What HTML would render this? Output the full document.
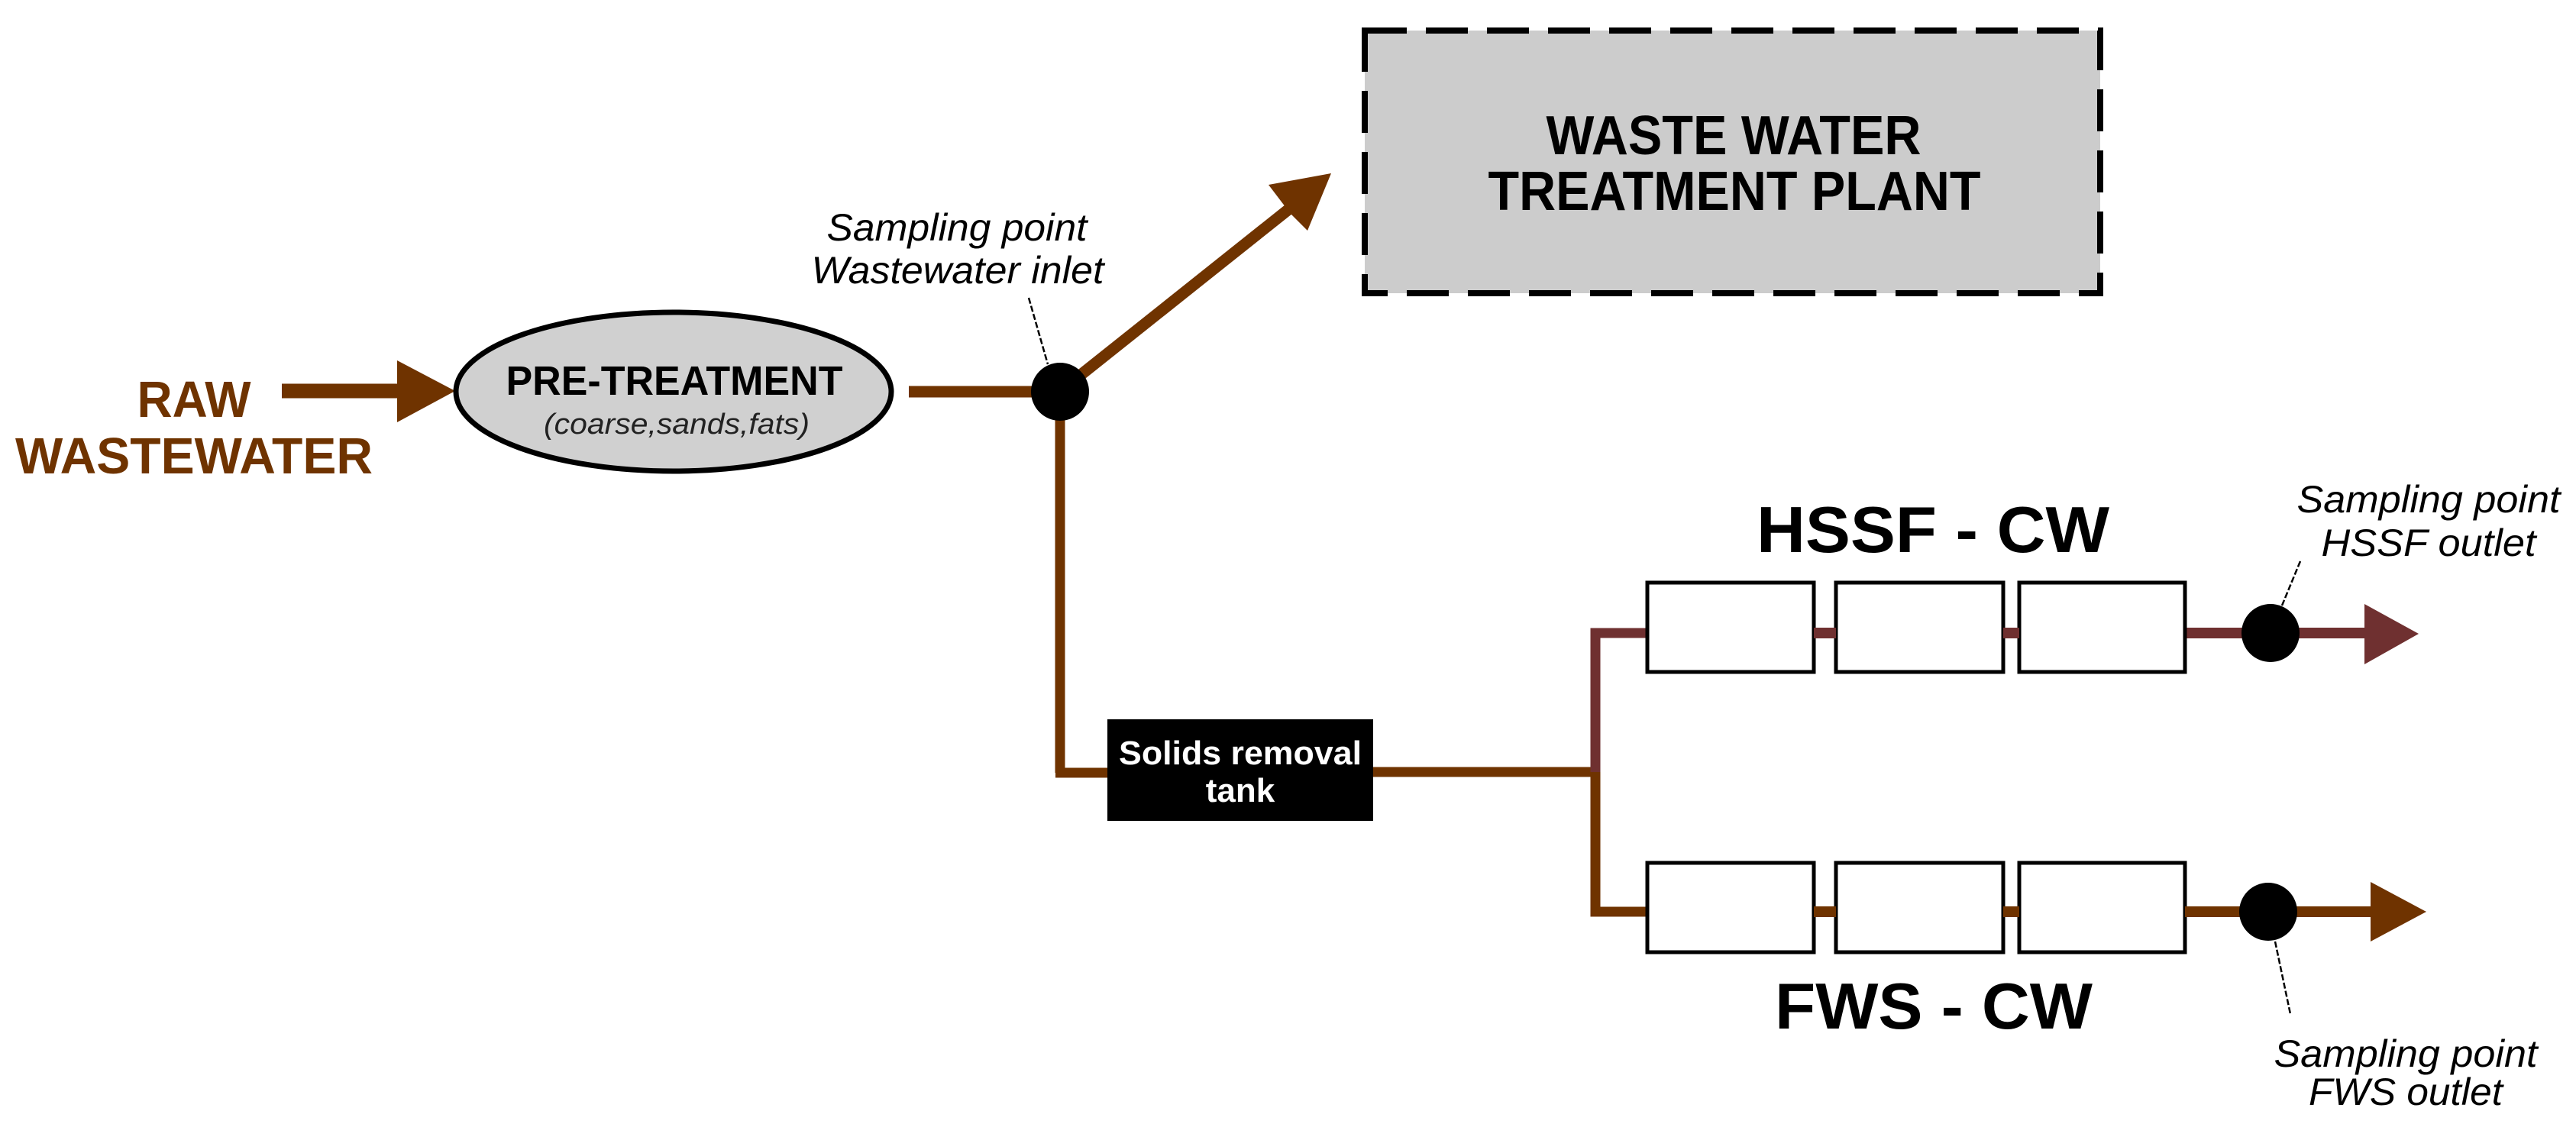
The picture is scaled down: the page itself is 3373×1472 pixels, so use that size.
<!DOCTYPE html>
<html><head><meta charset="utf-8"><style>html,body{margin:0;padding:0;background:#fff}svg{display:block}</style></head>
<body>
<svg width="3373" height="1472" viewBox="0 0 3373 1472" xmlns="http://www.w3.org/2000/svg" font-family="Liberation Sans, Arial, sans-serif">
<rect width="3373" height="1472" fill="#fff"/>
<!-- RAW WASTEWATER -->
<text x="254" y="546" font-size="67" font-weight="bold" fill="#6f3300" text-anchor="middle" textLength="149" lengthAdjust="spacingAndGlyphs">RAW</text>
<text x="254" y="620" font-size="67" font-weight="bold" fill="#6f3300" text-anchor="middle" textLength="468" lengthAdjust="spacingAndGlyphs">WASTEWATER</text>
<line x1="369" y1="512" x2="525" y2="512" stroke="#6f3300" stroke-width="19"/>
<polygon points="520,472 596,512 520,553" fill="#6f3300"/>
<!-- ellipse -->
<ellipse cx="882" cy="513" rx="285" ry="104" fill="#d0d0d0" stroke="#000" stroke-width="7"/>
<text x="883" y="517" font-size="54" font-weight="bold" text-anchor="middle" textLength="441" lengthAdjust="spacingAndGlyphs">PRE-TREATMENT</text>
<text x="886" y="568" font-size="38" font-style="italic" fill="#222" text-anchor="middle" textLength="348" lengthAdjust="spacingAndGlyphs">(coarse,sands,fats)</text>
<!-- lines from ellipse -->
<line x1="1190" y1="513" x2="1388" y2="513" stroke="#6f3300" stroke-width="15"/>
<line x1="1388" y1="513" x2="1388" y2="1012" stroke="#6f3300" stroke-width="13"/>
<line x1="1382" y1="1012" x2="1455" y2="1012" stroke="#6f3300" stroke-width="13"/>
<line x1="1400" y1="503" x2="1690" y2="272" stroke="#6f3300" stroke-width="15"/>
<polygon points="1743,227 1661,242 1680,267 1690,280 1712,302" fill="#6f3300"/>
<!-- inlet label -->
<text x="1253" y="315" font-size="50" font-style="italic" text-anchor="middle" textLength="341" lengthAdjust="spacingAndGlyphs">Sampling point</text>
<text x="1254" y="371" font-size="50" font-style="italic" text-anchor="middle" textLength="383" lengthAdjust="spacingAndGlyphs">Wastewater inlet</text>
<line x1="1347" y1="390" x2="1372" y2="477" stroke="#000" stroke-width="2.5" stroke-dasharray="8,3"/>
<circle cx="1388" cy="513" r="38" fill="#000"/>
<!-- WWTP -->
<rect x="1787" y="40" width="963" height="344" fill="#cccccc" stroke="#000" stroke-width="8" stroke-dasharray="55,25"/>
<text x="2270" y="202" font-size="72" font-weight="bold" text-anchor="middle" textLength="491" lengthAdjust="spacingAndGlyphs">WASTE WATER</text>
<text x="2271" y="275" font-size="72" font-weight="bold" text-anchor="middle" textLength="645" lengthAdjust="spacingAndGlyphs">TREATMENT PLANT</text>
<!-- solids box -->
<rect x="1450" y="942" width="348" height="133" fill="#000"/>
<text x="1624" y="1001" font-size="44" font-weight="bold" fill="#fff" text-anchor="middle" textLength="318" lengthAdjust="spacingAndGlyphs">Solids removal</text>
<text x="1624" y="1050" font-size="44" font-weight="bold" fill="#fff" text-anchor="middle">tank</text>
<!-- branch -->
<line x1="1798" y1="1011" x2="2089" y2="1011" stroke="#6f3300" stroke-width="13"/>
<polyline points="2160,829 2089,829 2089,1011" fill="none" stroke="#6f3030" stroke-width="13"/>
<polyline points="2089,1011 2089,1194 2160,1194" fill="none" stroke="#6f3300" stroke-width="13"/>
<!-- HSSF row -->
<line x1="2157" y1="829" x2="3110" y2="829" stroke="#6f3030" stroke-width="14"/>
<polygon points="3096,791 3167,830 3096,870" fill="#6f3030"/>
<g fill="#fff" stroke="#000" stroke-width="5">
<rect x="2157" y="763" width="218" height="117"/>
<rect x="2404" y="763" width="219" height="117"/>
<rect x="2644" y="763" width="217" height="117"/>
<rect x="2157" y="1130" width="218" height="117"/>
<rect x="2404" y="1130" width="219" height="117"/>
<rect x="2644" y="1130" width="217" height="117"/>
</g>
<line x1="2375" y1="829" x2="2404" y2="829" stroke="#6f3030" stroke-width="14"/>
<line x1="2623" y1="829" x2="2644" y2="829" stroke="#6f3030" stroke-width="14"/>
<!-- FWS row -->
<line x1="2861" y1="1194" x2="3110" y2="1194" stroke="#6f3300" stroke-width="14"/>
<line x1="2375" y1="1194" x2="2404" y2="1194" stroke="#6f3300" stroke-width="14"/>
<line x1="2623" y1="1194" x2="2644" y2="1194" stroke="#6f3300" stroke-width="14"/>
<polygon points="3104,1155 3177,1194 3104,1233" fill="#6f3300"/>
<circle cx="2973" cy="829" r="38" fill="#000"/>
<circle cx="2970" cy="1194" r="38" fill="#000"/>
<!-- titles -->
<text x="2531" y="723" font-size="85" font-weight="bold" text-anchor="middle" textLength="462" lengthAdjust="spacingAndGlyphs">HSSF - CW</text>
<text x="2532" y="1347" font-size="85" font-weight="bold" text-anchor="middle" textLength="416" lengthAdjust="spacingAndGlyphs">FWS - CW</text>
<!-- HSSF label -->
<text x="3180" y="671" font-size="50" font-style="italic" text-anchor="middle" textLength="345" lengthAdjust="spacingAndGlyphs">Sampling point</text>
<text x="3180" y="728" font-size="50" font-style="italic" text-anchor="middle" textLength="281" lengthAdjust="spacingAndGlyphs">HSSF outlet</text>
<line x1="3012" y1="735" x2="2988" y2="793" stroke="#000" stroke-width="2.5" stroke-dasharray="8,3"/>
<!-- FWS label -->
<text x="3150" y="1397" font-size="50" font-style="italic" text-anchor="middle" textLength="345" lengthAdjust="spacingAndGlyphs">Sampling point</text>
<text x="3150" y="1447" font-size="50" font-style="italic" text-anchor="middle" textLength="254" lengthAdjust="spacingAndGlyphs">FWS outlet</text>
<line x1="2979" y1="1233" x2="2999" y2="1328" stroke="#000" stroke-width="2.5" stroke-dasharray="8,3"/>
</svg>
</body></html>
